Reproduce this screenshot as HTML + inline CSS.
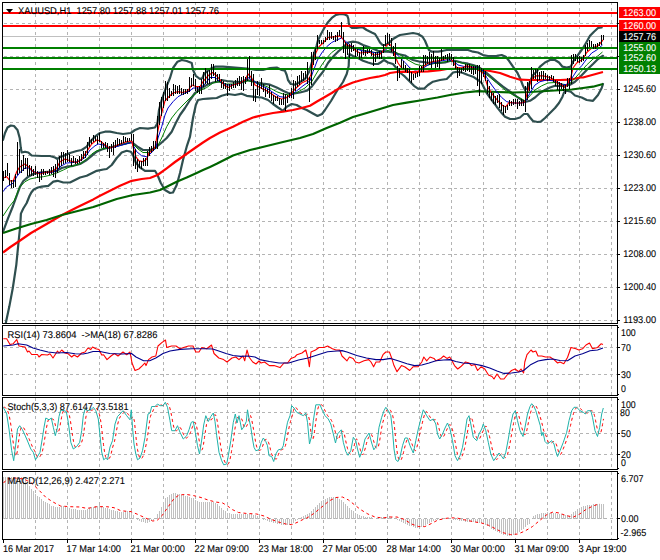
<!DOCTYPE html><html><head><meta charset="utf-8"><title>XAUUSD H1</title><style>html,body{margin:0;padding:0;background:#fff;}svg{display:block;}</style></head><body><svg width="660" height="560" viewBox="0 0 660 560" font-family="Liberation Sans, sans-serif" font-size="9.8" text-rendering="geometricPrecision">
<rect x="0" y="0" width="660" height="560" fill="#fff"/>
<g stroke="#b4b4b4" stroke-width="1" stroke-dasharray="3,3" shape-rendering="crispEdges" fill="none">
<line x1="35.5" y1="2" x2="35.5" y2="323"/>
<line x1="35.5" y1="326" x2="35.5" y2="395"/>
<line x1="35.5" y1="398" x2="35.5" y2="469"/>
<line x1="35.5" y1="472" x2="35.5" y2="539"/>
<line x1="67.5" y1="2" x2="67.5" y2="323"/>
<line x1="67.5" y1="326" x2="67.5" y2="395"/>
<line x1="67.5" y1="398" x2="67.5" y2="469"/>
<line x1="67.5" y1="472" x2="67.5" y2="539"/>
<line x1="99.5" y1="2" x2="99.5" y2="323"/>
<line x1="99.5" y1="326" x2="99.5" y2="395"/>
<line x1="99.5" y1="398" x2="99.5" y2="469"/>
<line x1="99.5" y1="472" x2="99.5" y2="539"/>
<line x1="131.5" y1="2" x2="131.5" y2="323"/>
<line x1="131.5" y1="326" x2="131.5" y2="395"/>
<line x1="131.5" y1="398" x2="131.5" y2="469"/>
<line x1="131.5" y1="472" x2="131.5" y2="539"/>
<line x1="163.5" y1="2" x2="163.5" y2="323"/>
<line x1="163.5" y1="326" x2="163.5" y2="395"/>
<line x1="163.5" y1="398" x2="163.5" y2="469"/>
<line x1="163.5" y1="472" x2="163.5" y2="539"/>
<line x1="195.5" y1="2" x2="195.5" y2="323"/>
<line x1="195.5" y1="326" x2="195.5" y2="395"/>
<line x1="195.5" y1="398" x2="195.5" y2="469"/>
<line x1="195.5" y1="472" x2="195.5" y2="539"/>
<line x1="227.5" y1="2" x2="227.5" y2="323"/>
<line x1="227.5" y1="326" x2="227.5" y2="395"/>
<line x1="227.5" y1="398" x2="227.5" y2="469"/>
<line x1="227.5" y1="472" x2="227.5" y2="539"/>
<line x1="259.5" y1="2" x2="259.5" y2="323"/>
<line x1="259.5" y1="326" x2="259.5" y2="395"/>
<line x1="259.5" y1="398" x2="259.5" y2="469"/>
<line x1="259.5" y1="472" x2="259.5" y2="539"/>
<line x1="291.5" y1="2" x2="291.5" y2="323"/>
<line x1="291.5" y1="326" x2="291.5" y2="395"/>
<line x1="291.5" y1="398" x2="291.5" y2="469"/>
<line x1="291.5" y1="472" x2="291.5" y2="539"/>
<line x1="323.5" y1="2" x2="323.5" y2="323"/>
<line x1="323.5" y1="326" x2="323.5" y2="395"/>
<line x1="323.5" y1="398" x2="323.5" y2="469"/>
<line x1="323.5" y1="472" x2="323.5" y2="539"/>
<line x1="355.5" y1="2" x2="355.5" y2="323"/>
<line x1="355.5" y1="326" x2="355.5" y2="395"/>
<line x1="355.5" y1="398" x2="355.5" y2="469"/>
<line x1="355.5" y1="472" x2="355.5" y2="539"/>
<line x1="387.5" y1="2" x2="387.5" y2="323"/>
<line x1="387.5" y1="326" x2="387.5" y2="395"/>
<line x1="387.5" y1="398" x2="387.5" y2="469"/>
<line x1="387.5" y1="472" x2="387.5" y2="539"/>
<line x1="419.5" y1="2" x2="419.5" y2="323"/>
<line x1="419.5" y1="326" x2="419.5" y2="395"/>
<line x1="419.5" y1="398" x2="419.5" y2="469"/>
<line x1="419.5" y1="472" x2="419.5" y2="539"/>
<line x1="451.5" y1="2" x2="451.5" y2="323"/>
<line x1="451.5" y1="326" x2="451.5" y2="395"/>
<line x1="451.5" y1="398" x2="451.5" y2="469"/>
<line x1="451.5" y1="472" x2="451.5" y2="539"/>
<line x1="483.5" y1="2" x2="483.5" y2="323"/>
<line x1="483.5" y1="326" x2="483.5" y2="395"/>
<line x1="483.5" y1="398" x2="483.5" y2="469"/>
<line x1="483.5" y1="472" x2="483.5" y2="539"/>
<line x1="515.5" y1="2" x2="515.5" y2="323"/>
<line x1="515.5" y1="326" x2="515.5" y2="395"/>
<line x1="515.5" y1="398" x2="515.5" y2="469"/>
<line x1="515.5" y1="472" x2="515.5" y2="539"/>
<line x1="547.5" y1="2" x2="547.5" y2="323"/>
<line x1="547.5" y1="326" x2="547.5" y2="395"/>
<line x1="547.5" y1="398" x2="547.5" y2="469"/>
<line x1="547.5" y1="472" x2="547.5" y2="539"/>
<line x1="579.5" y1="2" x2="579.5" y2="323"/>
<line x1="579.5" y1="326" x2="579.5" y2="395"/>
<line x1="579.5" y1="398" x2="579.5" y2="469"/>
<line x1="579.5" y1="472" x2="579.5" y2="539"/>
<line x1="611.5" y1="2" x2="611.5" y2="323"/>
<line x1="611.5" y1="326" x2="611.5" y2="395"/>
<line x1="611.5" y1="398" x2="611.5" y2="469"/>
<line x1="611.5" y1="472" x2="611.5" y2="539"/>
<line x1="4" y1="23.5" x2="617" y2="23.5"/>
<line x1="4" y1="56.5" x2="617" y2="56.5"/>
<line x1="4" y1="89.5" x2="617" y2="89.5"/>
<line x1="4" y1="122.5" x2="617" y2="122.5"/>
<line x1="4" y1="155.5" x2="617" y2="155.5"/>
<line x1="4" y1="188.5" x2="617" y2="188.5"/>
<line x1="4" y1="221.5" x2="617" y2="221.5"/>
<line x1="4" y1="254.5" x2="617" y2="254.5"/>
<line x1="4" y1="287.5" x2="617" y2="287.5"/>
<line x1="4" y1="320.5" x2="617" y2="320.5"/>
<line x1="4" y1="347.5" x2="617" y2="347.5"/>
<line x1="4" y1="374.5" x2="617" y2="374.5"/>
<line x1="4" y1="412.5" x2="617" y2="412.5"/>
<line x1="4" y1="433.5" x2="617" y2="433.5"/>
<line x1="4" y1="454.5" x2="617" y2="454.5"/>
<line x1="4" y1="518.5" x2="617" y2="518.5"/>
</g>
<g stroke="#c0c0c0" stroke-width="1" shape-rendering="crispEdges">
<line x1="3.5" y1="518.5" x2="3.5" y2="477"/>
<line x1="5.5" y1="518.5" x2="5.5" y2="477"/>
<line x1="7.5" y1="518.5" x2="7.5" y2="477"/>
<line x1="9.5" y1="518.5" x2="9.5" y2="477"/>
<line x1="11.5" y1="518.5" x2="11.5" y2="477"/>
<line x1="13.5" y1="518.5" x2="13.5" y2="477"/>
<line x1="15.5" y1="518.5" x2="15.5" y2="477"/>
<line x1="17.5" y1="518.5" x2="17.5" y2="477"/>
<line x1="19.5" y1="518.5" x2="19.5" y2="477"/>
<line x1="21.5" y1="518.5" x2="21.5" y2="477"/>
<line x1="23.5" y1="518.5" x2="23.5" y2="477"/>
<line x1="25.5" y1="518.5" x2="25.5" y2="477"/>
<line x1="27.5" y1="518.5" x2="27.5" y2="482"/>
<line x1="29.5" y1="518.5" x2="29.5" y2="486"/>
<line x1="31.5" y1="518.5" x2="31.5" y2="489"/>
<line x1="33.5" y1="518.5" x2="33.5" y2="491"/>
<line x1="35.5" y1="518.5" x2="35.5" y2="494"/>
<line x1="37.5" y1="518.5" x2="37.5" y2="496"/>
<line x1="39.5" y1="518.5" x2="39.5" y2="497"/>
<line x1="41.5" y1="518.5" x2="41.5" y2="499"/>
<line x1="43.5" y1="518.5" x2="43.5" y2="501"/>
<line x1="45.5" y1="518.5" x2="45.5" y2="502"/>
<line x1="47.5" y1="518.5" x2="47.5" y2="503"/>
<line x1="49.5" y1="518.5" x2="49.5" y2="504"/>
<line x1="51.5" y1="518.5" x2="51.5" y2="506"/>
<line x1="53.5" y1="518.5" x2="53.5" y2="506"/>
<line x1="55.5" y1="518.5" x2="55.5" y2="507"/>
<line x1="57.5" y1="518.5" x2="57.5" y2="507"/>
<line x1="59.5" y1="518.5" x2="59.5" y2="507"/>
<line x1="61.5" y1="518.5" x2="61.5" y2="506"/>
<line x1="63.5" y1="518.5" x2="63.5" y2="506"/>
<line x1="65.5" y1="518.5" x2="65.5" y2="507"/>
<line x1="67.5" y1="518.5" x2="67.5" y2="507"/>
<line x1="69.5" y1="518.5" x2="69.5" y2="508"/>
<line x1="71.5" y1="518.5" x2="71.5" y2="509"/>
<line x1="73.5" y1="518.5" x2="73.5" y2="509"/>
<line x1="75.5" y1="518.5" x2="75.5" y2="509"/>
<line x1="77.5" y1="518.5" x2="77.5" y2="510"/>
<line x1="79.5" y1="518.5" x2="79.5" y2="510"/>
<line x1="81.5" y1="518.5" x2="81.5" y2="510"/>
<line x1="83.5" y1="518.5" x2="83.5" y2="510"/>
<line x1="85.5" y1="518.5" x2="85.5" y2="510"/>
<line x1="87.5" y1="518.5" x2="87.5" y2="509"/>
<line x1="89.5" y1="518.5" x2="89.5" y2="508"/>
<line x1="91.5" y1="518.5" x2="91.5" y2="507"/>
<line x1="93.5" y1="518.5" x2="93.5" y2="507"/>
<line x1="95.5" y1="518.5" x2="95.5" y2="506"/>
<line x1="97.5" y1="518.5" x2="97.5" y2="506"/>
<line x1="99.5" y1="518.5" x2="99.5" y2="505"/>
<line x1="101.5" y1="518.5" x2="101.5" y2="506"/>
<line x1="103.5" y1="518.5" x2="103.5" y2="507"/>
<line x1="105.5" y1="518.5" x2="105.5" y2="508"/>
<line x1="107.5" y1="518.5" x2="107.5" y2="508"/>
<line x1="109.5" y1="518.5" x2="109.5" y2="509"/>
<line x1="111.5" y1="518.5" x2="111.5" y2="510"/>
<line x1="113.5" y1="518.5" x2="113.5" y2="510"/>
<line x1="115.5" y1="518.5" x2="115.5" y2="511"/>
<line x1="117.5" y1="518.5" x2="117.5" y2="511"/>
<line x1="119.5" y1="518.5" x2="119.5" y2="512"/>
<line x1="121.5" y1="518.5" x2="121.5" y2="512"/>
<line x1="123.5" y1="518.5" x2="123.5" y2="512"/>
<line x1="125.5" y1="518.5" x2="125.5" y2="511"/>
<line x1="127.5" y1="518.5" x2="127.5" y2="511"/>
<line x1="129.5" y1="518.5" x2="129.5" y2="511"/>
<line x1="131.5" y1="518.5" x2="131.5" y2="512"/>
<line x1="133.5" y1="518.5" x2="133.5" y2="515"/>
<line x1="137.5" y1="518.5" x2="137.5" y2="520"/>
<line x1="139.5" y1="518.5" x2="139.5" y2="521"/>
<line x1="141.5" y1="518.5" x2="141.5" y2="522"/>
<line x1="143.5" y1="518.5" x2="143.5" y2="522"/>
<line x1="145.5" y1="518.5" x2="145.5" y2="523"/>
<line x1="147.5" y1="518.5" x2="147.5" y2="523"/>
<line x1="149.5" y1="518.5" x2="149.5" y2="522"/>
<line x1="151.5" y1="518.5" x2="151.5" y2="521"/>
<line x1="153.5" y1="518.5" x2="153.5" y2="520"/>
<line x1="157.5" y1="518.5" x2="157.5" y2="514"/>
<line x1="159.5" y1="518.5" x2="159.5" y2="511"/>
<line x1="161.5" y1="518.5" x2="161.5" y2="507"/>
<line x1="163.5" y1="518.5" x2="163.5" y2="502"/>
<line x1="165.5" y1="518.5" x2="165.5" y2="498"/>
<line x1="167.5" y1="518.5" x2="167.5" y2="497"/>
<line x1="169.5" y1="518.5" x2="169.5" y2="495"/>
<line x1="171.5" y1="518.5" x2="171.5" y2="494"/>
<line x1="173.5" y1="518.5" x2="173.5" y2="493"/>
<line x1="175.5" y1="518.5" x2="175.5" y2="493"/>
<line x1="177.5" y1="518.5" x2="177.5" y2="494"/>
<line x1="179.5" y1="518.5" x2="179.5" y2="494"/>
<line x1="181.5" y1="518.5" x2="181.5" y2="495"/>
<line x1="183.5" y1="518.5" x2="183.5" y2="495"/>
<line x1="185.5" y1="518.5" x2="185.5" y2="496"/>
<line x1="187.5" y1="518.5" x2="187.5" y2="496"/>
<line x1="189.5" y1="518.5" x2="189.5" y2="497"/>
<line x1="191.5" y1="518.5" x2="191.5" y2="498"/>
<line x1="193.5" y1="518.5" x2="193.5" y2="498"/>
<line x1="195.5" y1="518.5" x2="195.5" y2="500"/>
<line x1="197.5" y1="518.5" x2="197.5" y2="501"/>
<line x1="199.5" y1="518.5" x2="199.5" y2="502"/>
<line x1="201.5" y1="518.5" x2="201.5" y2="502"/>
<line x1="203.5" y1="518.5" x2="203.5" y2="502"/>
<line x1="205.5" y1="518.5" x2="205.5" y2="502"/>
<line x1="207.5" y1="518.5" x2="207.5" y2="502"/>
<line x1="209.5" y1="518.5" x2="209.5" y2="502"/>
<line x1="211.5" y1="518.5" x2="211.5" y2="502"/>
<line x1="213.5" y1="518.5" x2="213.5" y2="502"/>
<line x1="215.5" y1="518.5" x2="215.5" y2="503"/>
<line x1="217.5" y1="518.5" x2="217.5" y2="504"/>
<line x1="219.5" y1="518.5" x2="219.5" y2="506"/>
<line x1="221.5" y1="518.5" x2="221.5" y2="508"/>
<line x1="223.5" y1="518.5" x2="223.5" y2="510"/>
<line x1="225.5" y1="518.5" x2="225.5" y2="511"/>
<line x1="227.5" y1="518.5" x2="227.5" y2="513"/>
<line x1="229.5" y1="518.5" x2="229.5" y2="513"/>
<line x1="231.5" y1="518.5" x2="231.5" y2="514"/>
<line x1="233.5" y1="518.5" x2="233.5" y2="514"/>
<line x1="235.5" y1="518.5" x2="235.5" y2="514"/>
<line x1="237.5" y1="518.5" x2="237.5" y2="514"/>
<line x1="239.5" y1="518.5" x2="239.5" y2="514"/>
<line x1="241.5" y1="518.5" x2="241.5" y2="514"/>
<line x1="243.5" y1="518.5" x2="243.5" y2="514"/>
<line x1="245.5" y1="518.5" x2="245.5" y2="514"/>
<line x1="247.5" y1="518.5" x2="247.5" y2="514"/>
<line x1="249.5" y1="518.5" x2="249.5" y2="514"/>
<line x1="251.5" y1="518.5" x2="251.5" y2="514"/>
<line x1="253.5" y1="518.5" x2="253.5" y2="515"/>
<line x1="255.5" y1="518.5" x2="255.5" y2="515"/>
<line x1="257.5" y1="518.5" x2="257.5" y2="516"/>
<line x1="259.5" y1="518.5" x2="259.5" y2="517"/>
<line x1="263.5" y1="518.5" x2="263.5" y2="520"/>
<line x1="265.5" y1="518.5" x2="265.5" y2="520"/>
<line x1="267.5" y1="518.5" x2="267.5" y2="521"/>
<line x1="269.5" y1="518.5" x2="269.5" y2="522"/>
<line x1="271.5" y1="518.5" x2="271.5" y2="522"/>
<line x1="273.5" y1="518.5" x2="273.5" y2="523"/>
<line x1="275.5" y1="518.5" x2="275.5" y2="523"/>
<line x1="277.5" y1="518.5" x2="277.5" y2="524"/>
<line x1="279.5" y1="518.5" x2="279.5" y2="524"/>
<line x1="281.5" y1="518.5" x2="281.5" y2="525"/>
<line x1="283.5" y1="518.5" x2="283.5" y2="525"/>
<line x1="285.5" y1="518.5" x2="285.5" y2="525"/>
<line x1="287.5" y1="518.5" x2="287.5" y2="525"/>
<line x1="289.5" y1="518.5" x2="289.5" y2="525"/>
<line x1="291.5" y1="518.5" x2="291.5" y2="524"/>
<line x1="293.5" y1="518.5" x2="293.5" y2="523"/>
<line x1="295.5" y1="518.5" x2="295.5" y2="521"/>
<line x1="297.5" y1="518.5" x2="297.5" y2="520"/>
<line x1="301.5" y1="518.5" x2="301.5" y2="517"/>
<line x1="303.5" y1="518.5" x2="303.5" y2="516"/>
<line x1="305.5" y1="518.5" x2="305.5" y2="515"/>
<line x1="307.5" y1="518.5" x2="307.5" y2="514"/>
<line x1="309.5" y1="518.5" x2="309.5" y2="513"/>
<line x1="311.5" y1="518.5" x2="311.5" y2="511"/>
<line x1="313.5" y1="518.5" x2="313.5" y2="509"/>
<line x1="315.5" y1="518.5" x2="315.5" y2="507"/>
<line x1="317.5" y1="518.5" x2="317.5" y2="505"/>
<line x1="319.5" y1="518.5" x2="319.5" y2="503"/>
<line x1="321.5" y1="518.5" x2="321.5" y2="501"/>
<line x1="323.5" y1="518.5" x2="323.5" y2="500"/>
<line x1="325.5" y1="518.5" x2="325.5" y2="499"/>
<line x1="327.5" y1="518.5" x2="327.5" y2="498"/>
<line x1="329.5" y1="518.5" x2="329.5" y2="497"/>
<line x1="331.5" y1="518.5" x2="331.5" y2="497"/>
<line x1="333.5" y1="518.5" x2="333.5" y2="497"/>
<line x1="335.5" y1="518.5" x2="335.5" y2="497"/>
<line x1="337.5" y1="518.5" x2="337.5" y2="498"/>
<line x1="339.5" y1="518.5" x2="339.5" y2="499"/>
<line x1="341.5" y1="518.5" x2="341.5" y2="500"/>
<line x1="343.5" y1="518.5" x2="343.5" y2="502"/>
<line x1="345.5" y1="518.5" x2="345.5" y2="504"/>
<line x1="347.5" y1="518.5" x2="347.5" y2="506"/>
<line x1="349.5" y1="518.5" x2="349.5" y2="508"/>
<line x1="351.5" y1="518.5" x2="351.5" y2="510"/>
<line x1="353.5" y1="518.5" x2="353.5" y2="511"/>
<line x1="355.5" y1="518.5" x2="355.5" y2="513"/>
<line x1="357.5" y1="518.5" x2="357.5" y2="514"/>
<line x1="359.5" y1="518.5" x2="359.5" y2="515"/>
<line x1="361.5" y1="518.5" x2="361.5" y2="516"/>
<line x1="363.5" y1="518.5" x2="363.5" y2="516"/>
<line x1="365.5" y1="518.5" x2="365.5" y2="517"/>
<line x1="367.5" y1="518.5" x2="367.5" y2="517"/>
<line x1="369.5" y1="518.5" x2="369.5" y2="517"/>
<line x1="371.5" y1="518.5" x2="371.5" y2="517"/>
<line x1="381.5" y1="518.5" x2="381.5" y2="517"/>
<line x1="383.5" y1="518.5" x2="383.5" y2="517"/>
<line x1="385.5" y1="518.5" x2="385.5" y2="517"/>
<line x1="387.5" y1="518.5" x2="387.5" y2="517"/>
<line x1="389.5" y1="518.5" x2="389.5" y2="516"/>
<line x1="391.5" y1="518.5" x2="391.5" y2="517"/>
<line x1="397.5" y1="518.5" x2="397.5" y2="520"/>
<line x1="399.5" y1="518.5" x2="399.5" y2="521"/>
<line x1="401.5" y1="518.5" x2="401.5" y2="522"/>
<line x1="403.5" y1="518.5" x2="403.5" y2="523"/>
<line x1="405.5" y1="518.5" x2="405.5" y2="524"/>
<line x1="407.5" y1="518.5" x2="407.5" y2="525"/>
<line x1="409.5" y1="518.5" x2="409.5" y2="526"/>
<line x1="411.5" y1="518.5" x2="411.5" y2="526"/>
<line x1="413.5" y1="518.5" x2="413.5" y2="527"/>
<line x1="415.5" y1="518.5" x2="415.5" y2="528"/>
<line x1="417.5" y1="518.5" x2="417.5" y2="528"/>
<line x1="419.5" y1="518.5" x2="419.5" y2="528"/>
<line x1="421.5" y1="518.5" x2="421.5" y2="527"/>
<line x1="423.5" y1="518.5" x2="423.5" y2="527"/>
<line x1="425.5" y1="518.5" x2="425.5" y2="525"/>
<line x1="427.5" y1="518.5" x2="427.5" y2="524"/>
<line x1="429.5" y1="518.5" x2="429.5" y2="523"/>
<line x1="431.5" y1="518.5" x2="431.5" y2="522"/>
<line x1="433.5" y1="518.5" x2="433.5" y2="521"/>
<line x1="435.5" y1="518.5" x2="435.5" y2="520"/>
<line x1="437.5" y1="518.5" x2="437.5" y2="520"/>
<line x1="439.5" y1="518.5" x2="439.5" y2="520"/>
<line x1="441.5" y1="518.5" x2="441.5" y2="520"/>
<line x1="453.5" y1="518.5" x2="453.5" y2="520"/>
<line x1="455.5" y1="518.5" x2="455.5" y2="520"/>
<line x1="457.5" y1="518.5" x2="457.5" y2="520"/>
<line x1="459.5" y1="518.5" x2="459.5" y2="521"/>
<line x1="461.5" y1="518.5" x2="461.5" y2="521"/>
<line x1="463.5" y1="518.5" x2="463.5" y2="521"/>
<line x1="465.5" y1="518.5" x2="465.5" y2="522"/>
<line x1="467.5" y1="518.5" x2="467.5" y2="522"/>
<line x1="469.5" y1="518.5" x2="469.5" y2="522"/>
<line x1="471.5" y1="518.5" x2="471.5" y2="522"/>
<line x1="473.5" y1="518.5" x2="473.5" y2="522"/>
<line x1="475.5" y1="518.5" x2="475.5" y2="522"/>
<line x1="477.5" y1="518.5" x2="477.5" y2="523"/>
<line x1="479.5" y1="518.5" x2="479.5" y2="523"/>
<line x1="481.5" y1="518.5" x2="481.5" y2="523"/>
<line x1="483.5" y1="518.5" x2="483.5" y2="524"/>
<line x1="485.5" y1="518.5" x2="485.5" y2="525"/>
<line x1="487.5" y1="518.5" x2="487.5" y2="526"/>
<line x1="489.5" y1="518.5" x2="489.5" y2="527"/>
<line x1="491.5" y1="518.5" x2="491.5" y2="529"/>
<line x1="493.5" y1="518.5" x2="493.5" y2="530"/>
<line x1="495.5" y1="518.5" x2="495.5" y2="531"/>
<line x1="497.5" y1="518.5" x2="497.5" y2="532"/>
<line x1="499.5" y1="518.5" x2="499.5" y2="533"/>
<line x1="501.5" y1="518.5" x2="501.5" y2="534"/>
<line x1="503.5" y1="518.5" x2="503.5" y2="535"/>
<line x1="505.5" y1="518.5" x2="505.5" y2="535"/>
<line x1="507.5" y1="518.5" x2="507.5" y2="536"/>
<line x1="509.5" y1="518.5" x2="509.5" y2="536"/>
<line x1="511.5" y1="518.5" x2="511.5" y2="536"/>
<line x1="513.5" y1="518.5" x2="513.5" y2="535"/>
<line x1="515.5" y1="518.5" x2="515.5" y2="535"/>
<line x1="517.5" y1="518.5" x2="517.5" y2="533"/>
<line x1="519.5" y1="518.5" x2="519.5" y2="532"/>
<line x1="521.5" y1="518.5" x2="521.5" y2="530"/>
<line x1="523.5" y1="518.5" x2="523.5" y2="529"/>
<line x1="525.5" y1="518.5" x2="525.5" y2="527"/>
<line x1="527.5" y1="518.5" x2="527.5" y2="525"/>
<line x1="529.5" y1="518.5" x2="529.5" y2="524"/>
<line x1="533.5" y1="518.5" x2="533.5" y2="516"/>
<line x1="535.5" y1="518.5" x2="535.5" y2="515"/>
<line x1="537.5" y1="518.5" x2="537.5" y2="514"/>
<line x1="539.5" y1="518.5" x2="539.5" y2="514"/>
<line x1="541.5" y1="518.5" x2="541.5" y2="513"/>
<line x1="543.5" y1="518.5" x2="543.5" y2="513"/>
<line x1="545.5" y1="518.5" x2="545.5" y2="513"/>
<line x1="547.5" y1="518.5" x2="547.5" y2="512"/>
<line x1="549.5" y1="518.5" x2="549.5" y2="513"/>
<line x1="551.5" y1="518.5" x2="551.5" y2="513"/>
<line x1="553.5" y1="518.5" x2="553.5" y2="513"/>
<line x1="555.5" y1="518.5" x2="555.5" y2="513"/>
<line x1="557.5" y1="518.5" x2="557.5" y2="514"/>
<line x1="559.5" y1="518.5" x2="559.5" y2="514"/>
<line x1="561.5" y1="518.5" x2="561.5" y2="514"/>
<line x1="563.5" y1="518.5" x2="563.5" y2="515"/>
<line x1="565.5" y1="518.5" x2="565.5" y2="515"/>
<line x1="567.5" y1="518.5" x2="567.5" y2="515"/>
<line x1="569.5" y1="518.5" x2="569.5" y2="516"/>
<line x1="571.5" y1="518.5" x2="571.5" y2="514"/>
<line x1="573.5" y1="518.5" x2="573.5" y2="512"/>
<line x1="575.5" y1="518.5" x2="575.5" y2="511"/>
<line x1="577.5" y1="518.5" x2="577.5" y2="509"/>
<line x1="579.5" y1="518.5" x2="579.5" y2="508"/>
<line x1="581.5" y1="518.5" x2="581.5" y2="507"/>
<line x1="583.5" y1="518.5" x2="583.5" y2="506"/>
<line x1="585.5" y1="518.5" x2="585.5" y2="506"/>
<line x1="587.5" y1="518.5" x2="587.5" y2="505"/>
<line x1="589.5" y1="518.5" x2="589.5" y2="505"/>
<line x1="591.5" y1="518.5" x2="591.5" y2="505"/>
<line x1="593.5" y1="518.5" x2="593.5" y2="504"/>
<line x1="595.5" y1="518.5" x2="595.5" y2="504"/>
<line x1="597.5" y1="518.5" x2="597.5" y2="504"/>
<line x1="599.5" y1="518.5" x2="599.5" y2="504"/>
<line x1="601.5" y1="518.5" x2="601.5" y2="504"/>
<line x1="603.5" y1="518.5" x2="603.5" y2="504"/>
</g>
<polyline points="3.6,483.0 7.0,479.0 14.5,478.0 24.0,479.0 31.5,483.0 38.8,490.0 46.0,497.5 53.0,502.0 60.6,506.0 70.0,506.7 80.0,507.0 87.0,508.4 97.0,506.7 106.7,506.7 114.0,507.7 121.0,510.8 131.0,511.6 138.0,514.5 145.5,518.0 152.7,521.0 157.0,520.5 162.0,515.7 168.0,507.0 174.0,498.7 179.0,495.0 186.0,494.4 193.6,495.6 201.0,497.5 208.0,500.0 215.5,502.0 222.7,503.0 227.6,506.0 232.4,509.6 238.5,512.5 247.0,513.5 256.7,514.0 264.0,516.0 271.0,519.3 278.5,522.0 285.8,524.0 291.8,524.7 298.0,522.0 305.0,518.5 307.0,518.0 314.5,513.0 321.8,507.0 329.0,501.0 336.0,497.5 342.4,497.0 348.5,500.0 354.5,504.8 360.6,509.6 367.9,514.0 375.0,517.0 382.4,518.0 389.7,517.0 397.0,517.0 404.0,519.3 411.5,524.0 418.8,526.6 424.8,526.6 431.0,523.7 437.0,520.5 443.0,518.8 450.0,517.8 457.0,518.0 464.5,519.8 474.0,521.8 481.5,523.0 488.8,525.4 496.0,529.0 503.0,532.7 510.6,534.6 518.0,534.0 525.0,531.0 532.4,526.6 539.7,520.5 547.0,514.5 553.0,512.0 559.0,513.0 566.4,515.7 573.6,517.0 579.7,514.0 585.8,509.6 593.0,506.0 600.0,503.6" fill="none" stroke="#f00" stroke-width="1" stroke-dasharray="3,3"/>
<polyline points="3.5,407.3 4.5,407.3 5.5,407.8 6.5,408.9 7.5,410.6 8.5,413.1 9.5,417.0 10.5,422.5 11.5,429.5 12.5,437.0 13.5,444.8 14.5,451.5 15.5,455.9 16.5,455.3 17.5,450.3 18.5,442.0 19.5,434.6 20.5,429.5 21.5,427.0 22.5,426.8 23.5,427.6 24.5,429.2 25.5,431.0 26.5,433.1 27.5,435.3 28.5,437.5 29.5,439.8 30.5,442.2 31.5,444.6 32.5,447.0 33.5,449.0 34.5,450.6 35.5,452.4 36.5,454.9 37.5,457.3 38.5,458.1 39.5,457.3 40.5,455.7 41.5,454.0 42.5,450.9 43.5,446.3 44.5,440.2 45.5,433.9 46.5,427.8 47.5,422.5 48.5,419.6 49.5,418.7 50.5,419.2 51.5,419.4 52.5,419.0 53.5,419.5 54.5,421.8 55.5,425.8 56.5,430.2 57.5,432.6 58.5,432.2 59.5,428.6 60.5,423.1 61.5,417.7 62.5,413.0 63.5,410.9 64.5,410.1 65.5,410.4 66.5,410.7 67.5,411.0 68.5,412.6 69.5,415.8 70.5,421.3 71.5,428.2 72.5,435.5 73.5,441.4 74.5,445.5 75.5,447.4 76.5,448.1 77.5,447.8 78.5,446.9 79.5,445.9 80.5,444.7 81.5,442.8 82.5,439.5 83.5,434.4 84.5,427.1 85.5,419.8 86.5,413.5 87.5,410.5 88.5,409.7 89.5,410.2 90.5,410.4 91.5,410.3 92.5,410.0 93.5,409.4 94.5,408.6 95.5,408.2 96.5,408.5 97.5,409.7 98.5,411.9 99.5,414.7 100.5,419.5 101.5,426.5 102.5,435.6 103.5,444.7 104.5,451.8 105.5,456.6 106.5,458.4 107.5,458.8 108.5,458.7 109.5,458.2 110.5,456.2 111.5,452.1 112.5,447.9 113.5,444.5 114.5,441.3 115.5,436.7 116.5,430.7 117.5,425.2 118.5,421.0 119.5,418.3 120.5,416.3 121.5,415.0 122.5,414.0 123.5,412.9 124.5,411.8 125.5,411.5 126.5,412.1 127.5,413.4 128.5,414.7 129.5,416.0 130.5,417.3 131.5,418.6 132.5,416.8 133.5,417.3 134.5,421.7 135.5,432.3 136.5,442.1 137.5,449.4 138.5,454.1 139.5,457.4 140.5,458.8 141.5,458.7 142.5,457.3 143.5,455.1 144.5,451.8 145.5,447.6 146.5,442.7 147.5,436.5 148.5,429.5 149.5,421.7 150.5,416.4 151.5,413.5 152.5,411.9 153.5,409.6 154.5,407.4 155.5,406.5 156.5,406.5 157.5,406.2 158.5,405.5 159.5,404.8 160.5,404.6 161.5,405.0 162.5,405.5 163.5,405.7 164.5,405.7 165.5,405.2 166.5,404.2 167.5,403.6 168.5,404.3 169.5,406.7 170.5,410.5 171.5,415.3 172.5,420.9 173.5,426.0 174.5,429.3 175.5,430.7 176.5,430.7 177.5,430.0 178.5,428.7 179.5,427.5 180.5,427.8 181.5,429.7 182.5,432.1 183.5,434.3 184.5,436.4 185.5,437.7 186.5,438.0 187.5,437.3 188.5,436.2 189.5,434.6 190.5,432.4 191.5,429.6 192.5,426.5 193.5,423.9 194.5,422.3 195.5,423.0 196.5,425.9 197.5,430.8 198.5,436.6 199.5,442.3 200.5,447.5 201.5,450.2 202.5,449.1 203.5,444.3 204.5,437.5 205.5,430.6 206.5,424.4 207.5,419.7 208.5,418.0 209.5,418.5 210.5,419.8 211.5,419.7 212.5,418.1 213.5,416.4 214.5,414.8 215.5,414.9 216.5,417.1 217.5,422.6 218.5,429.7 219.5,437.6 220.5,445.1 221.5,450.9 222.5,455.4 223.5,458.4 224.5,461.1 225.5,463.1 226.5,464.2 227.5,464.5 228.5,463.7 229.5,461.3 230.5,457.1 231.5,451.4 232.5,445.4 233.5,438.9 234.5,431.9 235.5,425.3 236.5,419.7 237.5,417.4 238.5,418.7 239.5,420.0 240.5,419.3 241.5,418.7 242.5,420.9 243.5,425.5 244.5,427.8 245.5,427.9 246.5,426.3 247.5,424.3 248.5,420.4 249.5,416.6 250.5,415.5 251.5,418.5 252.5,423.8 253.5,429.3 254.5,435.3 255.5,441.5 256.5,446.1 257.5,449.0 258.5,450.1 259.5,450.4 260.5,450.1 261.5,448.8 262.5,446.5 263.5,443.5 264.5,440.9 265.5,439.5 266.5,439.3 267.5,440.5 268.5,442.3 269.5,445.2 270.5,449.7 271.5,453.6 272.5,456.0 273.5,456.5 274.5,457.8 275.5,459.1 276.5,459.0 277.5,457.0 278.5,454.2 279.5,452.0 280.5,450.6 281.5,449.8 282.5,449.4 283.5,449.0 284.5,448.0 285.5,445.4 286.5,441.2 287.5,435.9 288.5,430.3 289.5,425.4 290.5,421.4 291.5,418.3 292.5,414.6 293.5,410.5 294.5,407.6 295.5,407.0 296.5,408.2 297.5,409.6 298.5,411.1 299.5,412.2 300.5,413.0 301.5,413.5 302.5,414.0 303.5,414.5 304.5,415.0 305.5,415.2 306.5,414.8 307.5,414.3 308.5,415.8 309.5,420.5 310.5,428.6 311.5,436.1 312.5,439.7 313.5,437.8 314.5,431.6 315.5,424.2 316.5,416.5 317.5,410.3 318.5,406.5 319.5,404.8 320.5,404.8 321.5,404.8 322.5,405.6 323.5,407.2 324.5,409.5 325.5,411.6 326.5,413.7 327.5,415.4 328.5,416.7 329.5,417.7 330.5,418.9 331.5,420.5 332.5,422.5 333.5,425.3 334.5,428.8 335.5,432.8 336.5,436.9 337.5,439.5 338.5,439.3 339.5,436.8 340.5,434.0 341.5,432.3 342.5,431.2 343.5,431.8 344.5,434.9 345.5,439.8 346.5,444.6 347.5,448.4 348.5,451.3 349.5,453.6 350.5,454.2 351.5,453.7 352.5,451.8 353.5,448.6 354.5,444.3 355.5,440.5 356.5,438.9 357.5,439.8 358.5,442.6 359.5,446.4 360.5,450.7 361.5,454.0 362.5,455.0 363.5,453.8 364.5,450.9 365.5,447.4 366.5,443.3 367.5,439.9 368.5,437.5 369.5,436.0 370.5,434.5 371.5,434.7 372.5,436.7 373.5,440.4 374.5,443.9 375.5,446.9 376.5,448.3 377.5,448.1 378.5,446.0 379.5,441.8 380.5,435.3 381.5,428.7 382.5,423.6 383.5,420.0 384.5,416.6 385.5,413.6 386.5,411.0 387.5,409.0 388.5,408.4 389.5,408.9 390.5,410.4 391.5,412.2 392.5,414.6 393.5,419.3 394.5,426.9 395.5,437.4 396.5,446.9 397.5,454.7 398.5,458.6 399.5,460.7 400.5,460.5 401.5,459.2 402.5,456.2 403.5,452.5 404.5,448.2 405.5,444.4 406.5,441.1 407.5,439.0 408.5,438.0 409.5,438.5 410.5,440.1 411.5,442.6 412.5,445.4 413.5,447.9 414.5,450.1 415.5,450.7 416.5,448.8 417.5,444.7 418.5,439.8 419.5,435.1 420.5,430.6 421.5,426.3 422.5,422.2 423.5,418.3 424.5,414.6 425.5,412.2 426.5,411.6 427.5,412.8 428.5,414.5 429.5,416.1 430.5,417.7 431.5,419.2 432.5,420.0 433.5,420.2 434.5,419.7 435.5,419.7 436.5,420.7 437.5,422.7 438.5,426.2 439.5,430.5 440.5,434.5 441.5,437.0 442.5,437.5 443.5,436.7 444.5,434.8 445.5,432.7 446.5,430.4 447.5,428.1 448.5,426.0 449.5,424.7 450.5,424.9 451.5,426.6 452.5,429.8 453.5,433.7 454.5,438.6 455.5,443.9 456.5,449.7 457.5,454.4 458.5,457.7 459.5,459.0 460.5,459.0 461.5,457.7 462.5,455.2 463.5,452.3 464.5,448.5 465.5,443.9 466.5,438.3 467.5,432.1 468.5,425.6 469.5,420.7 470.5,417.3 471.5,417.8 472.5,420.4 473.5,425.3 474.5,430.4 475.5,434.7 476.5,437.6 477.5,439.0 478.5,439.6 479.5,438.9 480.5,436.9 481.5,434.4 482.5,432.1 483.5,430.2 484.5,427.8 485.5,426.3 486.5,426.5 487.5,428.7 488.5,432.2 489.5,436.3 490.5,440.9 491.5,445.6 492.5,450.1 493.5,453.8 494.5,456.8 495.5,458.7 496.5,459.4 497.5,458.9 498.5,457.5 499.5,456.0 500.5,454.5 501.5,453.9 502.5,454.3 503.5,455.6 504.5,456.9 505.5,457.6 506.5,456.8 507.5,454.5 508.5,450.6 509.5,445.9 510.5,440.4 511.5,434.7 512.5,428.9 513.5,423.5 514.5,418.5 515.5,415.0 516.5,412.6 517.5,412.5 518.5,414.5 519.5,418.3 520.5,422.6 521.5,426.7 522.5,430.0 523.5,432.6 524.5,434.6 525.5,434.3 526.5,431.9 527.5,427.1 528.5,422.0 529.5,417.0 530.5,412.9 531.5,409.5 532.5,407.0 533.5,405.1 534.5,404.7 535.5,405.3 536.5,406.9 537.5,408.9 538.5,411.6 539.5,414.7 540.5,418.0 541.5,421.3 542.5,425.6 543.5,430.1 544.5,432.6 545.5,434.7 546.5,436.9 547.5,440.3 548.5,442.5 549.5,443.2 550.5,443.3 551.5,442.8 552.5,442.0 553.5,441.5 554.5,441.6 555.5,442.6 556.5,444.9 557.5,448.1 558.5,451.8 559.5,454.2 560.5,454.5 561.5,453.0 562.5,450.6 563.5,448.2 564.5,445.6 565.5,443.0 566.5,440.2 567.5,437.3 568.5,434.1 569.5,430.3 570.5,425.7 571.5,421.1 572.5,417.0 573.5,413.5 574.5,410.8 575.5,408.8 576.5,407.8 577.5,407.3 578.5,407.4 579.5,407.8 580.5,408.6 581.5,409.7 582.5,410.5 583.5,411.2 584.5,411.7 585.5,412.2 586.5,412.9 587.5,413.2 588.5,412.7 589.5,411.7 590.5,410.9 591.5,410.7 592.5,411.0 593.5,412.5 594.5,415.6 595.5,420.2 596.5,425.3 597.5,429.7 598.5,433.0 599.5,434.3 600.5,433.3 601.5,430.0 602.5,424.7 603.5,418.9" fill="none" stroke="#f00" stroke-width="1" stroke-dasharray="3,3"/>
<polyline points="3.3,407.3 6.7,414.0 9.0,429.0 11.7,450.7 13.7,460.7 15.8,444.0 17.5,429.0 19.7,425.7 22.5,429.8 26.7,439.0 30.8,449.0 33.3,452.3 35.5,459.8 37.5,456.5 40.0,452.3 42.5,437.3 44.0,427.3 45.8,418.0 49.0,419.8 51.3,418.0 53.3,427.3 55.3,435.7 57.5,427.3 59.0,416.5 60.8,409.8 64.0,410.7 66.3,411.5 68.3,422.3 70.8,442.3 73.3,449.0 76.7,446.5 79.7,442.3 81.7,430.7 83.3,415.7 85.0,409.0 87.5,410.7 90.8,409.8 93.3,407.3 95.8,410.7 98.3,419.0 100.0,435.7 101.7,452.0 103.7,459.8 105.8,458.0 107.5,459.8 110.0,447.0 112.5,440.7 115.0,424.0 117.5,416.5 120.0,414.0 123.0,410.7 126.7,415.7 130.0,419.8 131.3,409.8 132.5,427.3 134.0,444.0 135.8,454.0 137.5,459.8 140.0,458.0 142.5,450.7 145.0,437.3 146.7,424.0 148.0,414.0 150.0,413.0 151.7,406.5 155.0,406.5 157.5,404.0 160.0,405.7 163.0,405.7 165.3,402.3 167.5,407.3 170.0,420.7 171.7,430.7 175.0,430.7 177.5,425.7 180.0,432.3 183.3,439.0 186.7,435.7 189.0,429.8 191.3,422.3 193.3,421.5 195.3,432.3 197.5,445.7 199.5,454.0 201.7,440.0 203.7,425.0 205.8,415.7 208.3,421.5 210.8,416.5 213.3,413.0 215.0,421.5 216.7,435.7 219.0,452.3 221.7,460.7 223.7,464.8 226.7,464.0 228.3,455.7 230.8,440.7 233.3,422.3 235.3,414.0 237.0,423.0 239.0,415.7 241.7,429.8 244.0,426.5 246.3,421.5 247.5,409.8 249.0,419.0 250.8,427.3 252.5,439.0 254.0,447.3 255.8,450.7 259.0,449.8 261.3,442.3 263.3,438.0 265.8,441.5 267.5,445.7 269.0,455.7 271.7,456.5 273.7,461.5 275.8,454.0 278.3,449.8 281.7,449.0 283.3,445.7 285.3,434.0 287.5,422.3 290.0,415.7 291.7,405.7 294.0,408.0 296.7,412.3 300.0,414.0 303.3,415.7 305.8,413.0 307.5,422.3 309.5,444.0 311.7,435.7 313.3,420.7 315.8,404.8 320.0,404.8 322.5,410.7 325.0,415.7 328.3,419.0 330.8,424.0 333.3,434.0 335.5,443.0 337.5,434.0 341.3,429.8 343.3,442.3 345.8,451.5 348.0,455.3 350.8,450.7 353.3,437.3 355.8,440.7 357.5,449.0 359.7,457.3 362.5,449.8 365.0,439.0 369.0,433.0 371.7,443.0 373.8,449.8 376.7,445.7 379.0,427.3 381.7,417.3 384.0,410.7 385.8,407.3 388.3,410.7 390.8,415.7 392.5,430.7 394.0,449.0 395.8,459.8 398.0,461.5 400.0,457.0 402.5,445.7 405.0,438.0 407.5,438.0 410.0,445.7 413.3,453.0 415.8,440.7 418.3,429.0 420.8,419.0 423.3,409.8 426.7,415.7 430.0,420.7 433.3,419.0 435.8,424.0 437.5,434.0 439.7,439.0 442.5,434.0 445.0,428.0 447.5,423.0 450.0,429.0 452.5,440.7 455.0,455.7 457.5,460.7 460.0,455.7 462.5,447.3 465.0,432.3 467.0,419.0 469.0,415.7 470.8,424.0 473.3,437.3 476.7,440.7 479.0,434.0 481.7,429.0 483.3,424.0 485.8,430.7 488.3,442.3 490.8,454.0 493.7,460.7 496.7,456.5 499.0,453.0 501.7,456.5 503.5,459.0 505.8,452.3 508.3,439.0 510.8,424.0 513.0,414.0 515.3,410.7 517.5,420.7 520.0,430.7 523.0,436.5 525.0,427.3 527.5,414.0 530.0,406.5 531.7,403.7 534.0,406.5 535.8,410.7 538.3,419.0 540.3,425.7 541.7,435.7 543.0,432.3 545.0,441.5 547.5,444.0 551.7,440.7 554.0,444.0 555.8,451.5 557.5,456.5 560.0,450.7 563.3,442.3 566.7,432.3 569.0,420.7 571.7,410.7 574.0,407.3 576.7,407.3 580.0,410.7 583.3,412.3 585.3,414.0 587.5,410.7 590.8,410.7 592.5,417.3 595.0,430.7 597.5,436.5 599.7,427.3 601.7,414.0 603.3,408.0" fill="none" stroke="#20b2aa" stroke-width="1" stroke-linejoin="round"/>
<polyline points="3.3,338.7 6.7,338.7 10.0,344.5 13.3,343.7 16.7,339.5 19.0,346.0 25.0,347.0 27.5,352.0 29.0,351.0 31.7,354.5 37.5,354.5 39.0,357.0 41.7,354.5 47.5,355.0 50.0,353.7 53.0,358.0 57.5,351.0 59.0,353.0 61.7,350.0 65.0,353.0 68.0,353.7 71.7,357.0 74.0,355.0 77.5,357.0 81.7,353.0 85.0,352.0 88.0,348.0 90.8,349.5 92.5,347.0 95.8,348.7 99.0,349.5 101.7,355.0 103.6,354.7 107.0,359.6 111.0,356.0 114.5,353.5 118.0,356.0 123.0,352.0 126.7,354.7 130.0,352.0 132.0,363.0 135.0,370.5 138.8,369.0 142.4,365.6 144.8,363.0 146.0,365.6 148.5,359.6 152.0,357.0 155.8,356.0 158.0,346.0 161.8,342.6 165.5,340.0 166.7,347.5 171.5,346.0 176.0,346.0 180.0,348.7 183.6,347.5 188.5,346.0 193.0,346.0 195.8,352.0 199.0,352.0 201.8,347.5 206.7,348.7 211.5,345.0 214.0,353.5 218.8,358.0 223.6,359.6 227.0,362.0 232.0,358.0 235.8,357.0 239.0,359.6 243.0,356.0 244.7,360.8 247.0,350.0 249.0,357.0 252.7,362.0 256.0,364.0 259.0,361.0 261.0,363.0 264.5,362.0 269.4,365.6 274.0,365.6 280.0,367.6 284.0,363.0 287.6,363.0 291.0,358.4 294.8,357.0 297.0,354.7 302.0,353.0 305.8,350.0 308.0,358.4 309.4,366.8 311.0,352.0 315.5,350.0 319.0,347.5 324.0,347.5 327.6,346.0 332.4,348.7 336.0,350.0 339.7,350.0 342.0,356.0 347.0,360.8 349.4,357.0 353.0,358.4 355.5,362.0 359.0,363.0 364.0,360.8 368.8,359.6 371.0,362.0 373.6,366.8 376.0,362.0 379.7,362.0 383.0,354.7 385.8,352.0 389.4,352.0 391.8,358.4 394.0,365.6 397.0,371.7 401.5,365.6 405.0,367.0 409.7,370.5 413.0,366.8 418.0,366.8 421.8,362.0 423.8,357.0 426.7,360.8 430.0,357.0 434.0,358.4 436.0,360.8 441.0,358.4 443.6,356.0 447.0,358.4 449.7,357.0 452.0,360.8 454.5,365.6 457.7,369.0 460.6,366.8 465.5,362.0 469.0,363.0 471.5,365.6 474.7,364.4 477.6,370.5 481.0,366.8 484.8,369.0 488.5,375.0 492.0,376.5 494.0,379.0 497.0,374.0 500.6,379.0 504.0,379.0 507.9,374.0 511.5,370.5 515.0,369.0 518.8,371.7 521.0,369.0 523.6,373.0 524.8,362.0 527.0,354.7 531.0,350.0 533.0,352.0 535.8,351.0 538.0,356.0 541.8,356.0 545.5,357.0 550.0,357.0 554.0,359.6 557.6,363.0 560.0,362.0 563.8,363.8 567.5,357.5 571.0,347.5 576.0,348.8 578.8,350.0 582.5,348.8 586.0,345.0 589.5,343.0 592.5,348.8 597.5,347.5 601.0,343.8 603.0,344.5" fill="none" stroke="#f00" stroke-width="1.1" stroke-linejoin="round"/>
<polyline points="3.3,346.0 13.3,345.0 18.0,343.7 26.7,345.0 33.0,348.0 40.0,350.0 48.0,352.0 56.7,353.0 66.7,352.5 75.0,353.7 83.0,354.0 88.0,353.0 93.0,351.5 100.0,351.5 109.7,353.5 121.8,354.0 131.5,353.5 136.0,357.0 143.6,360.8 149.7,360.8 155.8,358.0 163.0,353.5 170.0,351.0 180.0,349.4 192.0,348.7 204.0,348.7 212.7,349.0 218.8,351.0 226.0,353.5 233.0,355.5 240.6,356.4 247.9,356.0 255.0,357.0 259.7,359.6 269.4,361.5 279.0,363.0 288.8,363.0 298.5,360.0 308.0,358.0 318.0,354.7 327.6,351.8 337.0,351.0 342.0,350.6 347.0,352.0 356.7,355.5 366.4,358.0 376.0,359.6 383.0,359.6 390.6,358.4 398.0,360.8 407.0,363.7 414.5,365.6 421.8,365.0 429.0,363.0 436.0,360.8 443.6,360.0 449.7,359.6 455.8,361.5 463.0,363.0 472.7,363.7 482.0,365.6 489.7,368.0 497.0,371.0 504.0,373.4 511.5,373.0 518.8,372.0 523.6,370.5 531.0,364.4 538.0,361.0 545.5,359.6 552.7,359.0 560.0,360.5 567.5,360.8 575.0,356.0 582.5,353.8 590.0,350.8 597.5,350.0 603.0,348.0" fill="none" stroke="#00008b" stroke-width="1.1" stroke-linejoin="round"/>
<line x1="3" y1="36.5" x2="617" y2="36.5" stroke="#c0c0c0" stroke-width="1" shape-rendering="crispEdges"/>
<polyline points="3.0,140.0 5.0,133.0 7.5,127.5 10.8,125.5 14.0,126.0 17.5,130.0 19.7,138.0 20.8,148.0 21.7,152.5 25.0,151.7 28.3,152.5 31.7,155.5 41.7,156.0 50.0,156.0 55.0,157.5 57.5,159.0 59.0,157.5 63.0,156.0 70.0,153.0 76.7,151.0 81.7,150.0 86.7,146.7 90.0,141.7 95.8,135.8 100.0,133.0 105.0,131.7 110.0,131.7 116.7,133.0 123.0,134.0 130.8,133.0 135.0,130.0 140.0,128.0 148.0,128.7 155.0,127.5 157.5,123.0 159.0,110.0 161.7,100.0 165.8,88.0 170.0,78.0 173.0,68.0 177.5,61.7 181.7,60.0 186.7,61.0 191.7,63.0 193.0,70.0 195.8,75.8 200.0,79.0 202.5,78.0 204.0,74.0 206.7,71.7 210.0,69.0 215.0,66.7 223.0,66.7 235.0,67.5 247.0,68.5 256.7,70.0 263.0,70.0 270.0,68.0 276.7,67.5 281.7,70.0 285.0,70.8 286.7,75.0 288.0,80.0 290.8,84.0 295.0,84.7 300.0,82.0 305.0,79.0 309.0,72.0 312.0,62.0 314.5,52.0 316.5,46.0 318.0,40.4 321.0,34.0 324.3,28.0 327.5,22.7 331.8,17.9 336.0,14.9 340.4,14.0 344.7,14.4 347.3,15.7 348.4,19.0 348.7,23.0 350.0,26.4 352.0,28.0 356.5,28.0 360.0,27.5 363.0,27.5 366.7,30.0 371.7,32.5 375.0,34.0 377.5,38.0 380.0,42.5 382.5,45.0 386.0,45.0 390.0,42.0 393.0,39.0 396.7,36.7 400.0,35.0 406.7,34.0 413.0,33.0 418.0,34.0 422.5,36.7 425.0,40.8 427.5,46.7 429.0,50.0 431.7,51.7 438.0,51.7 443.0,50.8 448.0,49.7 455.0,50.0 461.7,50.0 468.0,50.0 473.0,51.7 478.0,52.5 483.0,55.0 488.0,56.0 496.7,55.8 501.7,55.0 505.8,56.7 509.0,60.8 513.0,66.7 517.5,73.0 520.8,80.0 523.0,85.8 525.0,90.0 527.5,88.0 530.0,81.7 533.0,75.0 536.7,71.7 540.0,66.7 545.0,62.5 550.0,60.0 555.0,60.0 559.0,62.5 562.5,66.7 566.7,67.5 570.8,66.7 573.0,61.7 578.0,55.0 583.0,48.0 586.7,41.7 590.0,35.8 594.0,31.7 598.0,28.0 601.7,27.5" fill="none" stroke="#2f4f4f" stroke-width="2.2" stroke-linejoin="round" stroke-linecap="round"/>
<polyline points="3.0,231.8 7.8,218.9 13.0,206.0 16.8,195.5 20.0,186.7 23.3,181.0 28.3,176.7 33.3,174.0 40.0,172.5 50.0,171.7 56.7,170.8 61.7,168.0 66.7,166.7 73.3,165.8 80.0,164.0 86.7,160.0 91.7,155.8 96.7,151.7 101.7,149.5 106.7,148.0 110.0,147.5 121.7,144.5 131.7,142.0 133.0,143.0 138.0,147.0 143.0,150.0 150.0,150.0 155.0,148.0 160.0,144.0 166.7,138.0 171.7,131.7 175.8,123.0 180.0,115.0 185.0,108.0 190.0,100.0 195.0,93.0 200.0,89.0 206.7,85.0 213.0,82.5 218.0,81.7 221.7,80.0 226.7,81.0 233.0,81.7 241.7,82.0 246.7,80.0 251.7,80.8 256.7,82.5 263.0,83.7 270.0,84.7 276.7,87.5 283.0,90.8 288.0,93.0 293.0,93.7 300.0,92.5 306.7,90.8 311.7,86.7 318.0,78.0 323.0,71.7 328.0,63.0 333.0,56.7 338.0,51.7 343.0,47.5 348.0,42.5 353.0,41.7 358.0,42.5 363.0,45.0 368.0,46.7 373.0,48.7 378.0,50.8 383.0,51.7 388.0,51.7 393.0,52.5 398.0,54.0 405.0,55.5 408.0,57.5 413.0,60.0 420.0,61.7 426.7,62.5 433.0,63.0 440.0,63.0 445.0,62.5 450.0,61.0 455.0,60.8 461.7,62.5 468.0,63.7 473.0,65.0 478.0,66.7 485.0,71.7 490.0,75.8 496.7,81.7 503.0,86.7 510.0,91.7 516.7,96.7 521.7,100.0 525.0,102.0 530.0,100.8 535.0,97.5 540.0,93.0 545.0,90.0 550.0,87.5 555.0,85.8 560.0,85.8 565.0,85.8 570.0,84.7 575.0,81.7 580.0,77.0 586.7,70.0 593.0,64.0 598.0,59.0 603.0,55.8" fill="none" stroke="#2f4f4f" stroke-width="2.2" stroke-linejoin="round" stroke-linecap="round"/>
<polyline points="5.8,323.0 9.3,306.6 12.8,288.0 16.3,264.8 18.6,241.5 20.3,225.0 20.9,213.6 23.3,208.5 26.7,203.0 29.5,196.0 31.3,192.5 33.7,189.5 38.0,187.5 41.7,186.7 48.3,185.8 53.3,181.7 57.5,180.8 63.3,182.5 70.0,182.5 75.0,180.0 80.0,177.5 86.7,175.8 91.7,173.3 96.7,170.8 103.3,169.5 106.7,169.0 111.7,165.0 116.7,158.0 121.7,152.5 126.7,150.8 130.8,151.7 133.0,155.0 135.8,162.5 140.0,167.5 145.0,170.8 155.0,170.8 157.5,175.0 160.8,183.0 165.0,190.0 170.0,193.0 173.0,192.5 176.7,185.0 180.0,173.0 183.0,160.0 186.7,146.7 190.0,136.7 193.0,118.0 195.8,105.0 198.0,100.0 203.0,99.0 208.0,98.7 216.7,98.0 221.7,95.8 228.0,94.0 235.0,95.0 241.7,93.7 246.7,95.8 253.0,96.7 261.7,97.5 268.0,100.0 273.0,104.0 278.0,107.5 283.0,110.8 286.7,106.7 291.7,104.0 296.7,105.0 301.7,108.0 306.7,110.0 312.0,113.0 317.5,116.0 322.0,114.0 325.0,110.0 331.0,101.0 337.5,90.0 343.0,82.0 346.7,74.0 348.7,66.0 349.0,58.0 349.5,54.0 353.0,56.0 358.0,58.0 363.0,60.8 368.0,62.5 373.0,64.0 378.0,64.0 381.7,61.7 384.0,60.0 388.0,62.5 393.0,64.0 398.0,70.0 401.7,74.0 405.0,76.7 410.0,81.7 414.0,85.8 418.0,88.7 424.0,88.7 428.0,85.0 433.0,81.7 440.0,80.0 446.7,79.0 450.0,75.8 453.0,72.5 458.0,71.7 463.0,73.0 468.0,75.0 473.0,76.7 478.0,80.0 481.7,83.0 486.7,93.0 491.7,100.0 496.7,106.7 501.7,113.0 505.0,116.7 510.0,119.0 515.0,119.0 520.0,117.5 524.0,114.0 527.5,114.0 530.0,117.5 533.0,121.0 537.5,122.0 540.8,121.7 545.0,118.0 550.0,113.0 555.0,108.0 559.0,103.0 562.5,96.7 564.0,92.5 566.7,90.8 570.8,91.7 575.0,95.5 581.7,97.5 586.7,100.0 593.0,100.8 598.0,95.0 601.7,88.0 603.0,84.0" fill="none" stroke="#2f4f4f" stroke-width="2.2" stroke-linejoin="round" stroke-linecap="round"/>
<polyline points="3.0,252.5 10.4,247.0 19.4,241.0 31.0,233.0 46.6,224.0 62.0,215.0 77.7,207.0 93.3,199.4 100.0,195.8 110.0,190.8 120.0,185.8 131.7,180.8 141.7,179.0 150.0,178.0 157.5,175.0 166.7,168.3 175.0,162.0 185.0,155.0 195.0,148.0 203.0,142.5 210.0,138.0 220.0,132.5 233.0,126.7 243.0,121.7 253.0,117.5 263.0,115.0 273.0,113.0 283.0,111.7 293.0,110.0 301.7,108.0 310.0,105.8 317.0,101.5 324.0,97.5 331.7,93.0 338.0,89.0 345.0,85.8 353.0,82.5 361.7,80.0 370.0,78.0 378.0,76.7 385.0,75.0 390.0,73.0 396.7,72.0 405.0,71.7 411.7,72.0 428.0,71.3 440.0,70.2 447.0,69.0 465.0,68.6 478.0,68.6 483.0,69.3 486.0,70.2 490.0,71.0 500.0,73.0 510.0,76.7 520.0,79.7 530.0,80.0 540.0,80.0 550.0,80.0 560.0,80.0 570.0,79.7 580.0,77.5 583.0,77.5 593.0,74.7 603.0,72.0" fill="none" stroke="#f00" stroke-width="2.2" stroke-linejoin="round"/>
<polyline points="3.0,233.0 15.5,228.7 31.0,224.0 46.6,220.0 62.0,215.0 77.7,211.0 93.3,207.0 100.0,204.7 116.7,199.0 133.0,195.0 150.0,192.5 160.0,190.0 166.7,186.7 176.7,181.7 186.7,177.5 196.7,173.0 203.0,170.0 210.0,166.9 216.7,163.8 233.0,155.5 250.0,150.0 266.7,146.0 283.0,142.0 300.0,138.0 313.0,134.0 326.7,128.0 340.0,122.7 353.0,117.0 366.7,113.0 380.0,109.0 393.0,105.0 406.7,102.7 420.0,100.5 437.5,97.5 450.0,95.0 465.0,92.5 478.0,91.2 496.7,92.0 513.0,92.5 530.0,92.0 546.7,91.0 563.0,90.0 571.7,89.5 583.0,88.0 593.0,86.7 603.0,84.0" fill="none" stroke="#006400" stroke-width="2.2" stroke-linejoin="round"/>
<polyline points="3.0,216.0 9.3,206.6 14.0,200.8 16.7,194.5 18.5,189.5 20.0,186.7 25.0,181.7 30.0,179.0 36.7,177.5 43.3,176.7 50.0,175.3 56.7,173.0 63.3,170.0 70.0,166.7 76.7,165.0 81.7,163.0 86.7,159.0 91.7,154.0 96.7,150.8 101.7,149.0 106.7,148.0 115.0,146.5 123.0,144.5 131.7,142.5 133.0,144.0 138.0,149.0 143.0,152.5 148.0,152.5 153.0,150.0 156.7,148.0 161.7,138.0 166.7,126.7 171.7,118.0 176.7,111.7 183.0,105.0 190.0,98.0 195.0,94.0 200.0,90.5 206.7,87.5 213.0,83.0 218.0,81.7 225.0,84.0 233.0,84.0 241.7,83.0 248.0,80.8 255.0,82.5 263.0,85.0 270.0,88.0 276.7,91.7 283.0,94.0 290.0,95.0 296.7,92.5 305.0,88.0 311.7,81.7 316.7,73.0 321.7,65.0 326.7,58.0 331.7,52.5 336.7,49.0 343.0,46.7 350.0,46.7 358.0,49.0 366.7,50.8 375.0,52.5 383.0,51.7 390.0,50.0 395.0,51.7 401.7,55.8 408.0,60.0 415.0,64.0 421.7,65.8 428.0,65.0 436.7,63.0 445.0,61.7 453.0,60.8 461.7,63.0 470.0,65.0 478.0,66.7 480.0,70.0 488.0,75.8 496.7,83.0 505.0,90.0 513.0,95.0 520.0,98.0 525.0,100.8 530.0,95.8 535.0,90.0 541.7,85.8 548.0,83.0 555.0,82.5 561.7,84.0 568.0,85.0 573.0,80.5 580.0,72.5 586.7,65.0 593.0,59.0 598.0,55.8 602.5,52.0" fill="none" stroke="#008000" stroke-width="1" stroke-linejoin="round"/>
<polyline points="3.0,191.7 6.7,186.7 10.0,185.0 13.3,183.0 16.7,176.7 20.0,172.5 25.0,168.0 28.3,168.0 31.7,170.8 36.7,172.5 43.3,172.5 50.0,172.5 56.7,170.8 60.0,166.7 66.7,163.0 73.3,162.5 80.0,160.8 85.0,157.5 90.0,150.0 95.0,145.8 98.3,144.0 103.3,145.0 108.3,148.0 115.0,147.0 122.0,145.0 131.7,142.5 133.0,145.0 136.7,151.7 141.7,155.8 146.7,156.7 151.7,152.5 155.8,148.0 158.0,138.0 161.7,126.7 165.0,115.0 168.0,108.0 173.0,101.7 178.0,96.7 183.0,94.0 190.0,90.8 193.0,88.0 200.0,88.0 205.0,84.0 210.0,77.5 215.0,77.5 220.0,81.7 226.7,85.0 233.0,85.0 241.7,82.5 248.0,77.5 253.0,80.8 260.0,85.0 266.7,88.0 273.0,92.5 280.0,96.7 286.7,97.5 291.7,95.0 296.7,90.8 303.0,85.8 310.0,80.8 313.0,71.7 317.5,60.0 321.7,53.0 326.7,46.7 331.7,42.5 336.7,40.0 341.7,38.0 345.0,40.8 350.0,45.0 356.7,49.0 363.0,51.0 370.0,51.7 376.7,53.0 383.0,51.7 388.0,48.0 393.0,50.8 395.0,52.5 400.0,57.5 405.0,62.5 410.0,68.0 415.0,70.0 421.7,69.0 428.0,65.0 435.0,62.5 441.7,60.8 448.0,59.7 453.0,60.8 458.0,65.0 465.0,66.7 471.7,66.7 478.0,68.0 483.0,70.8 486.7,77.5 491.7,85.0 496.7,91.7 501.7,97.5 506.7,101.7 513.0,103.0 520.0,103.0 525.0,102.5 528.0,96.7 531.7,90.0 535.0,85.0 540.0,81.7 546.7,80.0 553.0,80.8 558.0,82.5 563.0,85.0 568.0,84.0 571.7,78.5 576.7,70.8 581.7,65.8 586.7,59.0 591.7,53.0 596.7,50.0 602.5,45.0" fill="none" stroke="#0000cd" stroke-width="1" stroke-linejoin="round"/>
<polyline points="3.3,178.0 6.7,176.7 10.0,180.8 13.3,180.8 16.7,171.7 20.0,166.7 25.0,164.0 28.3,166.7 33.3,171.7 40.0,174.0 45.0,172.5 51.7,171.7 56.7,168.0 60.0,161.7 65.0,159.0 70.0,160.8 76.7,162.5 81.7,159.0 86.7,151.7 91.7,144.0 96.7,140.0 100.0,140.8 105.0,145.0 109.0,148.0 113.0,147.0 120.0,144.0 127.0,141.5 131.7,141.0 133.0,146.7 135.8,156.7 139.0,160.8 143.0,161.7 146.7,159.0 149.0,153.0 155.0,147.5 157.5,133.0 160.0,120.0 162.5,110.0 165.0,100.8 168.0,97.5 173.0,93.0 178.0,91.7 183.0,92.5 188.0,90.8 191.7,85.0 196.7,86.7 200.0,86.7 203.0,81.7 208.0,75.8 212.5,72.5 216.7,75.8 220.8,80.8 225.0,85.8 228.0,87.5 233.0,85.0 240.0,83.0 245.0,80.0 248.0,74.0 251.7,78.0 255.0,85.0 260.0,87.5 266.7,90.8 271.7,94.0 276.7,97.5 281.7,99.0 285.8,98.0 290.0,95.0 295.0,89.0 301.7,83.0 308.0,80.0 310.8,75.0 313.0,63.0 315.8,53.0 319.0,46.7 323.0,43.0 328.0,37.5 335.0,36.7 340.0,35.8 343.0,39.0 346.7,45.0 351.7,46.7 355.8,50.8 360.0,53.0 365.0,52.5 370.0,52.5 374.0,55.0 380.0,54.0 384.0,50.0 387.5,44.0 390.8,45.0 394.0,53.0 395.0,55.8 398.0,63.0 401.7,68.0 406.7,70.8 411.7,73.0 416.7,73.0 421.7,68.0 426.7,64.0 431.7,61.7 438.0,60.8 445.0,59.0 450.0,58.0 453.0,61.7 456.7,67.5 461.7,68.0 466.7,65.8 473.0,67.5 478.0,70.0 483.0,73.0 485.0,78.0 488.0,87.5 493.0,95.0 498.0,100.8 503.0,105.8 505.8,106.7 509.0,102.5 515.0,103.0 521.7,103.0 525.0,101.7 527.5,91.7 530.0,84.0 532.5,78.0 536.7,75.8 543.0,75.8 550.0,77.5 553.0,79.0 556.7,82.5 561.7,85.0 565.0,87.5 568.0,83.0 570.8,77.5 573.0,68.0 576.7,63.0 583.0,59.0 586.7,52.5 591.7,48.0 598.0,45.8 603.0,40.0" fill="none" stroke="#f00" stroke-width="1.2" stroke-linejoin="round"/>
<rect x="3" y="12" width="614" height="2" fill="#f00" shape-rendering="crispEdges"/>
<rect x="3" y="25" width="614" height="2" fill="#f00" shape-rendering="crispEdges"/>
<rect x="3" y="47" width="614" height="2" fill="#008000" shape-rendering="crispEdges"/>
<rect x="3" y="57" width="614" height="2" fill="#008000" shape-rendering="crispEdges"/>
<rect x="3" y="68" width="614" height="2" fill="#008000" shape-rendering="crispEdges"/>
<g fill="#000" shape-rendering="crispEdges">
<rect x="3" y="171" width="1" height="10"/>
<rect x="5" y="170" width="1" height="8"/>
<rect x="7" y="163" width="1" height="13"/>
<rect x="9" y="173" width="1" height="12"/>
<rect x="11" y="180" width="1" height="8"/>
<rect x="13" y="180" width="1" height="8"/>
<rect x="15" y="174" width="1" height="13"/>
<rect x="17" y="142" width="1" height="33"/>
<rect x="19" y="149" width="1" height="24"/>
<rect x="21" y="160" width="1" height="13"/>
<rect x="23" y="155" width="1" height="16"/>
<rect x="25" y="158" width="1" height="11"/>
<rect x="27" y="158" width="1" height="18"/>
<rect x="29" y="165" width="1" height="11"/>
<rect x="31" y="166" width="1" height="10"/>
<rect x="33" y="169" width="1" height="7"/>
<rect x="35" y="166" width="1" height="9"/>
<rect x="37" y="171" width="1" height="7"/>
<rect x="39" y="172" width="1" height="10"/>
<rect x="41" y="169" width="1" height="11"/>
<rect x="43" y="169" width="1" height="6"/>
<rect x="45" y="171" width="1" height="4"/>
<rect x="47" y="171" width="1" height="3"/>
<rect x="49" y="169" width="1" height="6"/>
<rect x="51" y="167" width="1" height="7"/>
<rect x="53" y="166" width="1" height="11"/>
<rect x="55" y="164" width="1" height="14"/>
<rect x="57" y="160" width="1" height="13"/>
<rect x="59" y="156" width="1" height="12"/>
<rect x="61" y="152" width="1" height="14"/>
<rect x="63" y="152" width="1" height="12"/>
<rect x="65" y="153" width="1" height="10"/>
<rect x="67" y="150" width="1" height="12"/>
<rect x="69" y="154" width="1" height="8"/>
<rect x="71" y="158" width="1" height="8"/>
<rect x="73" y="156" width="1" height="7"/>
<rect x="75" y="158" width="1" height="6"/>
<rect x="77" y="159" width="1" height="5"/>
<rect x="79" y="156" width="1" height="7"/>
<rect x="81" y="154" width="1" height="7"/>
<rect x="83" y="151" width="1" height="8"/>
<rect x="85" y="151" width="1" height="7"/>
<rect x="87" y="142" width="1" height="13"/>
<rect x="89" y="137" width="1" height="10"/>
<rect x="91" y="139" width="1" height="5"/>
<rect x="93" y="135" width="1" height="7"/>
<rect x="95" y="136" width="1" height="5"/>
<rect x="97" y="136" width="1" height="8"/>
<rect x="99" y="133" width="1" height="9"/>
<rect x="101" y="141" width="1" height="7"/>
<rect x="103" y="143" width="1" height="5"/>
<rect x="105" y="142" width="1" height="6"/>
<rect x="107" y="143" width="1" height="9"/>
<rect x="109" y="146" width="1" height="12"/>
<rect x="111" y="144" width="1" height="8"/>
<rect x="113" y="142" width="1" height="13"/>
<rect x="115" y="140" width="1" height="8"/>
<rect x="117" y="138" width="1" height="8"/>
<rect x="119" y="139" width="1" height="6"/>
<rect x="121" y="140" width="1" height="4"/>
<rect x="123" y="136" width="1" height="7"/>
<rect x="125" y="137" width="1" height="5"/>
<rect x="127" y="138" width="1" height="4"/>
<rect x="129" y="138" width="1" height="3"/>
<rect x="131" y="134" width="1" height="7"/>
<rect x="133" y="134" width="1" height="32"/>
<rect x="135" y="149" width="1" height="20"/>
<rect x="137" y="159" width="1" height="13"/>
<rect x="139" y="161" width="1" height="7"/>
<rect x="141" y="161" width="1" height="8"/>
<rect x="143" y="158" width="1" height="8"/>
<rect x="145" y="158" width="1" height="8"/>
<rect x="147" y="151" width="1" height="15"/>
<rect x="149" y="147" width="1" height="9"/>
<rect x="151" y="146" width="1" height="7"/>
<rect x="153" y="141" width="1" height="10"/>
<rect x="155" y="141" width="1" height="8"/>
<rect x="157" y="116" width="1" height="33"/>
<rect x="159" y="102" width="1" height="23"/>
<rect x="161" y="97" width="1" height="19"/>
<rect x="163" y="92" width="1" height="16"/>
<rect x="165" y="81" width="1" height="20"/>
<rect x="167" y="82" width="1" height="19"/>
<rect x="169" y="88" width="1" height="10"/>
<rect x="171" y="91" width="1" height="5"/>
<rect x="173" y="84" width="1" height="12"/>
<rect x="175" y="85" width="1" height="9"/>
<rect x="177" y="86" width="1" height="8"/>
<rect x="179" y="85" width="1" height="9"/>
<rect x="181" y="88" width="1" height="7"/>
<rect x="183" y="89" width="1" height="6"/>
<rect x="185" y="89" width="1" height="5"/>
<rect x="187" y="89" width="1" height="5"/>
<rect x="189" y="77" width="1" height="15"/>
<rect x="191" y="78" width="1" height="9"/>
<rect x="193" y="74" width="1" height="12"/>
<rect x="195" y="79" width="1" height="12"/>
<rect x="197" y="87" width="1" height="6"/>
<rect x="199" y="86" width="1" height="8"/>
<rect x="201" y="79" width="1" height="15"/>
<rect x="203" y="72" width="1" height="15"/>
<rect x="205" y="68" width="1" height="16"/>
<rect x="207" y="71" width="1" height="13"/>
<rect x="209" y="70" width="1" height="14"/>
<rect x="211" y="64" width="1" height="15"/>
<rect x="213" y="64" width="1" height="12"/>
<rect x="215" y="72" width="1" height="10"/>
<rect x="217" y="74" width="1" height="7"/>
<rect x="219" y="74" width="1" height="8"/>
<rect x="221" y="79" width="1" height="9"/>
<rect x="223" y="81" width="1" height="8"/>
<rect x="225" y="83" width="1" height="6"/>
<rect x="227" y="84" width="1" height="12"/>
<rect x="229" y="84" width="1" height="7"/>
<rect x="231" y="84" width="1" height="5"/>
<rect x="233" y="82" width="1" height="6"/>
<rect x="235" y="80" width="1" height="8"/>
<rect x="237" y="78" width="1" height="8"/>
<rect x="239" y="76" width="1" height="10"/>
<rect x="241" y="77" width="1" height="13"/>
<rect x="243" y="76" width="1" height="15"/>
<rect x="245" y="77" width="1" height="7"/>
<rect x="247" y="59" width="1" height="22"/>
<rect x="249" y="56" width="1" height="22"/>
<rect x="251" y="71" width="1" height="15"/>
<rect x="253" y="74" width="1" height="27"/>
<rect x="255" y="89" width="1" height="13"/>
<rect x="257" y="81" width="1" height="14"/>
<rect x="259" y="84" width="1" height="12"/>
<rect x="261" y="78" width="1" height="11"/>
<rect x="263" y="84" width="1" height="8"/>
<rect x="265" y="88" width="1" height="9"/>
<rect x="267" y="89" width="1" height="5"/>
<rect x="269" y="85" width="1" height="13"/>
<rect x="271" y="92" width="1" height="9"/>
<rect x="273" y="95" width="1" height="9"/>
<rect x="275" y="96" width="1" height="5"/>
<rect x="277" y="96" width="1" height="5"/>
<rect x="279" y="98" width="1" height="7"/>
<rect x="281" y="99" width="1" height="6"/>
<rect x="283" y="93" width="1" height="12"/>
<rect x="285" y="94" width="1" height="17"/>
<rect x="287" y="95" width="1" height="8"/>
<rect x="289" y="93" width="1" height="5"/>
<rect x="291" y="88" width="1" height="10"/>
<rect x="293" y="80" width="1" height="19"/>
<rect x="295" y="81" width="1" height="10"/>
<rect x="297" y="76" width="1" height="11"/>
<rect x="299" y="75" width="1" height="10"/>
<rect x="301" y="71" width="1" height="11"/>
<rect x="303" y="73" width="1" height="8"/>
<rect x="305" y="71" width="1" height="8"/>
<rect x="307" y="62" width="1" height="22"/>
<rect x="309" y="77" width="1" height="25"/>
<rect x="311" y="52" width="1" height="33"/>
<rect x="313" y="52" width="1" height="13"/>
<rect x="315" y="48" width="1" height="12"/>
<rect x="317" y="35" width="1" height="14"/>
<rect x="319" y="40" width="1" height="4"/>
<rect x="321" y="40" width="1" height="4"/>
<rect x="323" y="40" width="1" height="4"/>
<rect x="325" y="37" width="1" height="5"/>
<rect x="327" y="30" width="1" height="10"/>
<rect x="329" y="32" width="1" height="8"/>
<rect x="331" y="32" width="1" height="7"/>
<rect x="333" y="36" width="1" height="4"/>
<rect x="335" y="35" width="1" height="7"/>
<rect x="337" y="32" width="1" height="9"/>
<rect x="339" y="30" width="1" height="6"/>
<rect x="341" y="22" width="1" height="16"/>
<rect x="343" y="32" width="1" height="21"/>
<rect x="345" y="42" width="1" height="17"/>
<rect x="347" y="44" width="1" height="11"/>
<rect x="349" y="44" width="1" height="14"/>
<rect x="351" y="43" width="1" height="9"/>
<rect x="353" y="45" width="1" height="6"/>
<rect x="355" y="48" width="1" height="9"/>
<rect x="357" y="49" width="1" height="7"/>
<rect x="359" y="52" width="1" height="7"/>
<rect x="361" y="51" width="1" height="7"/>
<rect x="363" y="46" width="1" height="9"/>
<rect x="365" y="50" width="1" height="6"/>
<rect x="367" y="49" width="1" height="5"/>
<rect x="369" y="49" width="1" height="4"/>
<rect x="371" y="50" width="1" height="6"/>
<rect x="373" y="53" width="1" height="13"/>
<rect x="375" y="52" width="1" height="10"/>
<rect x="377" y="52" width="1" height="6"/>
<rect x="379" y="51" width="1" height="8"/>
<rect x="381" y="51" width="1" height="8"/>
<rect x="383" y="44" width="1" height="9"/>
<rect x="385" y="35" width="1" height="11"/>
<rect x="387" y="33" width="1" height="11"/>
<rect x="389" y="34" width="1" height="12"/>
<rect x="391" y="38" width="1" height="14"/>
<rect x="393" y="46" width="1" height="10"/>
<rect x="395" y="43" width="1" height="21"/>
<rect x="397" y="66" width="1" height="15"/>
<rect x="399" y="68" width="1" height="10"/>
<rect x="401" y="59" width="1" height="9"/>
<rect x="403" y="61" width="1" height="8"/>
<rect x="405" y="65" width="1" height="7"/>
<rect x="407" y="68" width="1" height="5"/>
<rect x="409" y="69" width="1" height="12"/>
<rect x="411" y="72" width="1" height="11"/>
<rect x="413" y="74" width="1" height="6"/>
<rect x="415" y="73" width="1" height="5"/>
<rect x="417" y="72" width="1" height="5"/>
<rect x="419" y="66" width="1" height="10"/>
<rect x="421" y="66" width="1" height="6"/>
<rect x="423" y="55" width="1" height="17"/>
<rect x="425" y="55" width="1" height="10"/>
<rect x="427" y="56" width="1" height="8"/>
<rect x="429" y="52" width="1" height="13"/>
<rect x="431" y="54" width="1" height="14"/>
<rect x="433" y="51" width="1" height="11"/>
<rect x="435" y="56" width="1" height="12"/>
<rect x="437" y="56" width="1" height="11"/>
<rect x="439" y="58" width="1" height="11"/>
<rect x="441" y="49" width="1" height="12"/>
<rect x="443" y="56" width="1" height="4"/>
<rect x="445" y="55" width="1" height="4"/>
<rect x="447" y="54" width="1" height="8"/>
<rect x="449" y="53" width="1" height="7"/>
<rect x="451" y="54" width="1" height="6"/>
<rect x="453" y="57" width="1" height="9"/>
<rect x="455" y="61" width="1" height="8"/>
<rect x="457" y="67" width="1" height="11"/>
<rect x="459" y="68" width="1" height="8"/>
<rect x="461" y="68" width="1" height="5"/>
<rect x="463" y="67" width="1" height="4"/>
<rect x="465" y="64" width="1" height="8"/>
<rect x="467" y="64" width="1" height="7"/>
<rect x="469" y="64" width="1" height="8"/>
<rect x="471" y="66" width="1" height="8"/>
<rect x="473" y="66" width="1" height="9"/>
<rect x="475" y="66" width="1" height="8"/>
<rect x="477" y="65" width="1" height="21"/>
<rect x="479" y="65" width="1" height="31"/>
<rect x="481" y="68" width="1" height="16"/>
<rect x="483" y="69" width="1" height="8"/>
<rect x="485" y="71" width="1" height="10"/>
<rect x="487" y="80" width="1" height="14"/>
<rect x="489" y="86" width="1" height="12"/>
<rect x="491" y="92" width="1" height="9"/>
<rect x="493" y="93" width="1" height="11"/>
<rect x="495" y="96" width="1" height="9"/>
<rect x="497" y="95" width="1" height="8"/>
<rect x="499" y="94" width="1" height="14"/>
<rect x="501" y="102" width="1" height="9"/>
<rect x="503" y="105" width="1" height="10"/>
<rect x="505" y="106" width="1" height="7"/>
<rect x="507" y="105" width="1" height="5"/>
<rect x="509" y="100" width="1" height="6"/>
<rect x="511" y="101" width="1" height="5"/>
<rect x="513" y="99" width="1" height="6"/>
<rect x="515" y="99" width="1" height="5"/>
<rect x="517" y="99" width="1" height="10"/>
<rect x="519" y="101" width="1" height="5"/>
<rect x="521" y="99" width="1" height="7"/>
<rect x="523" y="100" width="1" height="6"/>
<rect x="525" y="86" width="1" height="26"/>
<rect x="527" y="82" width="1" height="18"/>
<rect x="529" y="81" width="1" height="10"/>
<rect x="531" y="67" width="1" height="22"/>
<rect x="533" y="70" width="1" height="9"/>
<rect x="535" y="69" width="1" height="10"/>
<rect x="537" y="69" width="1" height="13"/>
<rect x="539" y="72" width="1" height="8"/>
<rect x="541" y="71" width="1" height="8"/>
<rect x="543" y="71" width="1" height="9"/>
<rect x="545" y="73" width="1" height="6"/>
<rect x="547" y="75" width="1" height="6"/>
<rect x="549" y="76" width="1" height="4"/>
<rect x="551" y="75" width="1" height="4"/>
<rect x="553" y="76" width="1" height="6"/>
<rect x="555" y="80" width="1" height="6"/>
<rect x="557" y="81" width="1" height="9"/>
<rect x="559" y="82" width="1" height="12"/>
<rect x="561" y="83" width="1" height="6"/>
<rect x="563" y="85" width="1" height="6"/>
<rect x="565" y="85" width="1" height="9"/>
<rect x="567" y="78" width="1" height="9"/>
<rect x="569" y="78" width="1" height="11"/>
<rect x="571" y="55" width="1" height="29"/>
<rect x="573" y="54" width="1" height="10"/>
<rect x="575" y="54" width="1" height="7"/>
<rect x="577" y="56" width="1" height="6"/>
<rect x="579" y="56" width="1" height="7"/>
<rect x="581" y="57" width="1" height="5"/>
<rect x="583" y="55" width="1" height="6"/>
<rect x="585" y="45" width="1" height="11"/>
<rect x="587" y="43" width="1" height="8"/>
<rect x="589" y="40" width="1" height="7"/>
<rect x="591" y="41" width="1" height="6"/>
<rect x="593" y="44" width="1" height="5"/>
<rect x="595" y="44" width="1" height="5"/>
<rect x="597" y="43" width="1" height="4"/>
<rect x="599" y="42" width="1" height="4"/>
<rect x="601" y="35" width="1" height="10"/>
<rect x="603" y="35" width="1" height="5"/>
</g>
<g fill="#000" shape-rendering="crispEdges">
<rect x="2" y="2" width="616" height="1"/>
<rect x="2" y="2" width="1" height="538"/>
<rect x="617" y="2" width="1" height="538"/>
<rect x="2" y="323" width="616" height="1"/>
<rect x="2" y="325" width="616" height="1"/>
<rect x="2" y="395" width="616" height="1"/>
<rect x="2" y="397" width="616" height="1"/>
<rect x="2" y="469" width="616" height="1"/>
<rect x="2" y="471" width="616" height="1"/>
<rect x="2" y="539" width="616" height="1"/>
</g>
<g fill="#fff" shape-rendering="crispEdges">
<rect x="0" y="324" width="660" height="1"/>
<rect x="0" y="396" width="660" height="1"/>
<rect x="0" y="470" width="660" height="1"/>
</g>
<g fill="#000" shape-rendering="crispEdges">
<rect x="618" y="89" width="2" height="1"/>
<rect x="618" y="122" width="2" height="1"/>
<rect x="618" y="155" width="2" height="1"/>
<rect x="618" y="188" width="2" height="1"/>
<rect x="618" y="221" width="2" height="1"/>
<rect x="618" y="254" width="2" height="1"/>
<rect x="618" y="287" width="2" height="1"/>
<rect x="618" y="320" width="2" height="1"/>
<rect x="618" y="23" width="2" height="1"/>
<rect x="618" y="56" width="2" height="1"/>
<rect x="618" y="347" width="2" height="1"/>
<rect x="618" y="374" width="2" height="1"/>
<rect x="618" y="433" width="2" height="1"/>
<rect x="618" y="454" width="2" height="1"/>
<rect x="618" y="518" width="2" height="1"/>
<rect x="618" y="327" width="1" height="1"/>
<rect x="618" y="394" width="1" height="1"/>
<rect x="618" y="399" width="1" height="1"/>
<rect x="618" y="468" width="1" height="1"/>
<rect x="618" y="473" width="1" height="1"/>
<rect x="618" y="538" width="1" height="1"/>
<rect x="3" y="540" width="1" height="3"/>
<rect x="67" y="540" width="1" height="3"/>
<rect x="131" y="540" width="1" height="3"/>
<rect x="195" y="540" width="1" height="3"/>
<rect x="259" y="540" width="1" height="3"/>
<rect x="323" y="540" width="1" height="3"/>
<rect x="387" y="540" width="1" height="3"/>
<rect x="451" y="540" width="1" height="3"/>
<rect x="515" y="540" width="1" height="3"/>
<rect x="579" y="540" width="1" height="3"/>
</g>
<g stroke="#000" stroke-width="0.1">
<text x="623.3" y="92.1" fill="#000" textLength="32.8" lengthAdjust="spacingAndGlyphs" text-anchor="start" xml:space="preserve">1245.60</text>
<text x="623.3" y="125.1" fill="#000" textLength="32.8" lengthAdjust="spacingAndGlyphs" text-anchor="start" xml:space="preserve">1238.00</text>
<text x="623.3" y="158.1" fill="#000" textLength="32.8" lengthAdjust="spacingAndGlyphs" text-anchor="start" xml:space="preserve">1230.60</text>
<text x="623.3" y="191.1" fill="#000" textLength="32.8" lengthAdjust="spacingAndGlyphs" text-anchor="start" xml:space="preserve">1223.00</text>
<text x="623.3" y="224.1" fill="#000" textLength="32.8" lengthAdjust="spacingAndGlyphs" text-anchor="start" xml:space="preserve">1215.60</text>
<text x="623.3" y="257.1" fill="#000" textLength="32.8" lengthAdjust="spacingAndGlyphs" text-anchor="start" xml:space="preserve">1208.00</text>
<text x="623.3" y="290.1" fill="#000" textLength="32.8" lengthAdjust="spacingAndGlyphs" text-anchor="start" xml:space="preserve">1200.40</text>
<text x="623.3" y="323.1" fill="#000" textLength="32.8" lengthAdjust="spacingAndGlyphs" text-anchor="start" xml:space="preserve">1193.00</text>
<text x="621" y="336" fill="#000" textLength="14.700000000000001" lengthAdjust="spacingAndGlyphs" text-anchor="start" xml:space="preserve">100</text>
<text x="621" y="351" fill="#000" textLength="9.8" lengthAdjust="spacingAndGlyphs" text-anchor="start" xml:space="preserve">70</text>
<text x="621" y="378" fill="#000" textLength="9.8" lengthAdjust="spacingAndGlyphs" text-anchor="start" xml:space="preserve">30</text>
<text x="621" y="392" fill="#000" textLength="4.9" lengthAdjust="spacingAndGlyphs" text-anchor="start" xml:space="preserve">0</text>
<text x="621" y="408" fill="#000" textLength="14.700000000000001" lengthAdjust="spacingAndGlyphs" text-anchor="start" xml:space="preserve">100</text>
<text x="620" y="416" fill="#000" textLength="9.8" lengthAdjust="spacingAndGlyphs" text-anchor="start" xml:space="preserve">80</text>
<text x="621" y="437" fill="#000" textLength="9.8" lengthAdjust="spacingAndGlyphs" text-anchor="start" xml:space="preserve">50</text>
<text x="621" y="458" fill="#000" textLength="9.8" lengthAdjust="spacingAndGlyphs" text-anchor="start" xml:space="preserve">20</text>
<text x="621" y="466" fill="#000" textLength="4.9" lengthAdjust="spacingAndGlyphs" text-anchor="start" xml:space="preserve">0</text>
<text x="621" y="482" fill="#000" textLength="22.5" lengthAdjust="spacingAndGlyphs" text-anchor="start" xml:space="preserve">6.707</text>
<text x="621" y="522" fill="#000" textLength="17.5" lengthAdjust="spacingAndGlyphs" text-anchor="start" xml:space="preserve">0.00</text>
<text x="620.6" y="536" fill="#000" textLength="25.7" lengthAdjust="spacingAndGlyphs" text-anchor="start" xml:space="preserve">-2.965</text>
</g>
<g stroke="#fff" stroke-width="0.1">
<rect x="619" y="7" width="41" height="11" fill="#f00" stroke="none" shape-rendering="crispEdges"/>
<text x="623.3" y="16" fill="#fff" textLength="32.8" lengthAdjust="spacingAndGlyphs" text-anchor="start" xml:space="preserve">1263.00</text>
<rect x="619" y="20" width="41" height="11" fill="#f00" stroke="none" shape-rendering="crispEdges"/>
<text x="623.3" y="29" fill="#fff" textLength="32.8" lengthAdjust="spacingAndGlyphs" text-anchor="start" xml:space="preserve">1260.00</text>
<rect x="619" y="31" width="41" height="11" fill="#000" stroke="none" shape-rendering="crispEdges"/>
<text x="623.3" y="40" fill="#fff" textLength="32.8" lengthAdjust="spacingAndGlyphs" text-anchor="start" xml:space="preserve">1257.76</text>
<rect x="619" y="42" width="41" height="11" fill="#008000" stroke="none" shape-rendering="crispEdges"/>
<text x="623.3" y="51" fill="#fff" textLength="32.8" lengthAdjust="spacingAndGlyphs" text-anchor="start" xml:space="preserve">1255.00</text>
<rect x="619" y="53" width="41" height="10" fill="#008000" stroke="none" shape-rendering="crispEdges"/>
<text x="623.3" y="61" fill="#fff" textLength="32.8" lengthAdjust="spacingAndGlyphs" text-anchor="start" xml:space="preserve">1252.60</text>
<rect x="619" y="63" width="41" height="11" fill="#008000" stroke="none" shape-rendering="crispEdges"/>
<text x="623.3" y="72" fill="#fff" textLength="32.8" lengthAdjust="spacingAndGlyphs" text-anchor="start" xml:space="preserve">1250.13</text>
</g>
<g stroke="#000" stroke-width="0.1">
<text x="3" y="552" fill="#000" textLength="51" lengthAdjust="spacingAndGlyphs" text-anchor="start" xml:space="preserve">16 Mar 2017</text>
<text x="66.5" y="552" fill="#000" textLength="54.5" lengthAdjust="spacingAndGlyphs" text-anchor="start" xml:space="preserve">17 Mar 14:00</text>
<text x="130.5" y="552" fill="#000" textLength="54.5" lengthAdjust="spacingAndGlyphs" text-anchor="start" xml:space="preserve">21 Mar 00:00</text>
<text x="194.5" y="552" fill="#000" textLength="54.5" lengthAdjust="spacingAndGlyphs" text-anchor="start" xml:space="preserve">22 Mar 09:00</text>
<text x="258.5" y="552" fill="#000" textLength="54.5" lengthAdjust="spacingAndGlyphs" text-anchor="start" xml:space="preserve">23 Mar 18:00</text>
<text x="322.5" y="552" fill="#000" textLength="54.5" lengthAdjust="spacingAndGlyphs" text-anchor="start" xml:space="preserve">27 Mar 05:00</text>
<text x="386.5" y="552" fill="#000" textLength="54.5" lengthAdjust="spacingAndGlyphs" text-anchor="start" xml:space="preserve">28 Mar 14:00</text>
<text x="450.5" y="552" fill="#000" textLength="54.5" lengthAdjust="spacingAndGlyphs" text-anchor="start" xml:space="preserve">30 Mar 00:00</text>
<text x="514.5" y="552" fill="#000" textLength="54.5" lengthAdjust="spacingAndGlyphs" text-anchor="start" xml:space="preserve">31 Mar 09:00</text>
<text x="578.5" y="552" fill="#000" textLength="48" lengthAdjust="spacingAndGlyphs" text-anchor="start" xml:space="preserve">3 Apr 19:00</text>
<polygon points="6,9 13,9 9.5,13" fill="#000" stroke="none"/>
<text x="18" y="14" fill="#000" textLength="201" lengthAdjust="spacingAndGlyphs" text-anchor="start" xml:space="preserve">XAUUSD,H1  1257.80 1257.88 1257.01 1257.76</text>
<text x="7.5" y="338" fill="#000" textLength="150" lengthAdjust="spacingAndGlyphs" text-anchor="start" xml:space="preserve">RSI(14) 73.8604  -&gt;MA(18) 67.8286</text>
<text x="7.5" y="410" fill="#000" textLength="121" lengthAdjust="spacingAndGlyphs" text-anchor="start" xml:space="preserve">Stoch(5,3,3) 87.6147 73.5181</text>
<text x="7.5" y="484" fill="#000" textLength="117.5" lengthAdjust="spacingAndGlyphs" text-anchor="start" xml:space="preserve">MACD(12,26,9) 2.427 2.271</text>
</g>
</svg></body></html>
